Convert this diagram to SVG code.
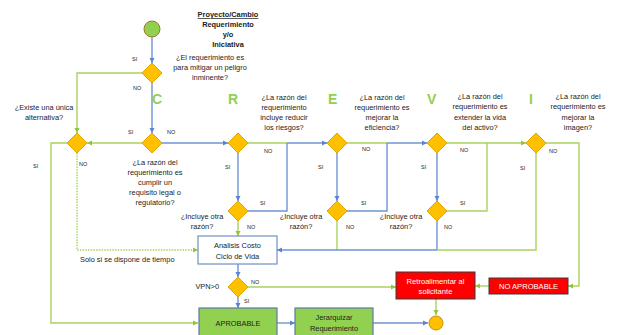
<svg xmlns="http://www.w3.org/2000/svg" width="617" height="335" viewBox="0 0 617 335">
<defs>
<style>
text{font-family:"Liberation Sans",Arial,sans-serif;fill:#222}
.q{font-size:7.4px;text-anchor:middle}
.t{font-size:7.4px;text-anchor:middle;font-weight:bold}
.s{font-size:5.5px}
.big{font-size:14px;fill:#92D050;font-weight:bold}
.b{fill:none;stroke:#6F94D6;stroke-width:1.4}
.g{fill:none;stroke:#A9D35C;stroke-width:1.4}
.gd{fill:none;stroke:#A9D35C;stroke-width:1.4;stroke-dasharray:1.5 1.2}
.dia{fill:#FFC000;stroke:#E3A600;stroke-width:1}
.red{fill:#FF0000;stroke:#3a3a3a;stroke-width:1}
.wt{font-size:7.6px;text-anchor:middle;fill:#fff}
.gb{fill:#92D050;stroke:#5B7BA8;stroke-width:1.2}
</style>
<marker id="ab" markerUnits="userSpaceOnUse" markerWidth="6" markerHeight="6" refX="5" refY="3" orient="auto"><path d="M0,0.5 L5,3 L0,5.5 Z" fill="#5B84D0"/></marker>
<marker id="ag" markerUnits="userSpaceOnUse" markerWidth="6" markerHeight="6" refX="5" refY="3" orient="auto"><path d="M0,0.5 L5,3 L0,5.5 Z" fill="#92C43C"/></marker>
</defs>
<rect width="617" height="335" fill="#fff"/>

<g id="connectors">
<path class="b" d="M152,37 V63" marker-end="url(#ab)"/>
<path class="g" d="M142,73 H77 V133" marker-end="url(#ag)"/>
<path class="b" d="M152,83 V133" marker-end="url(#ab)"/>
<path class="g" d="M142,143 H87" marker-end="url(#ag)"/>
<path class="b" d="M162,143 H228" marker-end="url(#ab)"/>
<path class="g" d="M67,143 H51 V323 H198" marker-end="url(#ag)"/>
<path class="gd" d="M77,153 V250 H198" marker-end="url(#ag)"/>
<path class="g" d="M248,143 H287"/>
<path class="b" d="M287,143 H327" marker-end="url(#ab)"/>
<path class="b" d="M238,153 V201" marker-end="url(#ab)"/>
<path class="b" d="M248,211 H287 V143"/>
<path class="g" d="M238,221 V236" marker-end="url(#ag)"/>
<path class="g" d="M347,143 H387"/>
<path class="b" d="M387,143 H427" marker-end="url(#ab)"/>
<path class="b" d="M337,153 V201" marker-end="url(#ab)"/>
<path class="b" d="M347,211 H387 V143"/>
<path class="g" d="M337,221 V250"/>
<path class="b" d="M337,250 H277" marker-end="url(#ab)"/>
<path class="g" d="M447,143 H487"/>
<path class="g" d="M487,143 H526" marker-end="url(#ag)"/>
<path class="b" d="M437,153 V201" marker-end="url(#ab)"/>
<path class="g" d="M447,211 H487 V143"/>
<path class="b" d="M437,221 V250 H337"/>
<path class="g" d="M536,153 V250 H437"/>
<path class="g" d="M546,143 H579 V286 H568" marker-end="url(#ag)"/>
<path class="g" d="M489,286 H475" marker-end="url(#ag)"/>
<path class="g" d="M436,299 V315" marker-end="url(#ag)"/>
<path class="b" d="M238,264 V277" marker-end="url(#ab)"/>
<path class="g" d="M248,287 H396" marker-end="url(#ag)"/>
<path class="b" d="M238,297 V308" marker-end="url(#ab)"/>
<path class="b" d="M277,323 H295" marker-end="url(#ab)"/>
<path class="b" d="M373,323 H428" marker-end="url(#ab)"/>
</g>

<g id="title">
<text class="t" x="228" y="17" text-decoration="underline">Proyecto/Cambio</text>
<text class="t" x="228" y="27">Requerimiento</text>
<text class="t" x="228" y="37">y/o</text>
<text class="t" x="228" y="47">Iniciativa</text>
</g>

<g id="start"><circle cx="152" cy="29" r="8" fill="#92D050" stroke="#A0782E" stroke-width="1"/></g>

<g id="d-peligro">
<path class="dia" d="M152,63 L162,73 L152,83 L142,73 Z"/>
<text class="q" x="210" y="60">¿El requerimiento es</text>
<text class="q" x="210" y="70">para mitigar un peligro</text>
<text class="q" x="210" y="80">inminente?</text>
<text class="s" x="132" y="61">SI</text>
<text class="s" x="133" y="90">NO</text>
</g>

<g id="d-unica">
<path class="dia" d="M77,133 L87,143 L77,153 L67,143 Z"/>
<text class="q" x="44" y="110">¿Existe una única</text>
<text class="q" x="44" y="120">alternativa?</text>
<text class="s" x="33" y="168">SI</text>
<text class="s" x="79" y="166">NO</text>
</g>

<g id="d-legal">
<path class="dia" d="M152,133 L162,143 L152,153 L142,143 Z"/>
<text class="big" x="152" y="104">C</text>
<text class="q" x="155" y="165">¿La razón del</text>
<text class="q" x="155" y="175">requerimiento es</text>
<text class="q" x="155" y="185">cumplir un</text>
<text class="q" x="155" y="195">requisito legal o</text>
<text class="q" x="155" y="205">regulatorio?</text>
<text class="s" x="128" y="134">SI</text>
<text class="s" x="167" y="134">NO</text>
</g>

<g id="d-riesgos">
<path class="dia" d="M238,133 L248,143 L238,153 L228,143 Z"/>
<text class="big" x="228" y="104">R</text>
<text class="q" x="284" y="100">¿La razón del</text>
<text class="q" x="284" y="110">requerimiento</text>
<text class="q" x="284" y="120">incluye reducir</text>
<text class="q" x="284" y="130">los riesgos?</text>
<text class="s" x="264" y="153">NO</text>
<text class="s" x="225" y="169">SI</text>
</g>

<g id="d-otra-r">
<path class="dia" d="M238,201 L248,211 L238,221 L228,211 Z"/>
<text class="q" x="202" y="219">¿Incluye otra</text>
<text class="q" x="202" y="229">razón?</text>
<text class="s" x="260" y="205">SI</text>
<text class="s" x="247" y="229">NO</text>
</g>

<g id="d-eficiencia">
<path class="dia" d="M337,133 L347,143 L337,153 L327,143 Z"/>
<text class="big" x="328" y="104">E</text>
<text class="q" x="382" y="100">¿La razón del</text>
<text class="q" x="382" y="110">requerimiento  es</text>
<text class="q" x="382" y="120">mejorar la</text>
<text class="q" x="382" y="130">eficiencia?</text>
<text class="s" x="362" y="151">NO</text>
<text class="s" x="318" y="169">SI</text>
</g>

<g id="d-otra-e">
<path class="dia" d="M337,201 L347,211 L337,221 L327,211 Z"/>
<text class="q" x="301" y="219">¿Incluye otra</text>
<text class="q" x="301" y="229">razón?</text>
<text class="s" x="361" y="205">SI</text>
<text class="s" x="346" y="229">NO</text>
</g>

<g id="d-vida">
<path class="dia" d="M437,133 L447,143 L437,153 L427,143 Z"/>
<text class="big" x="427" y="104">V</text>
<text class="q" x="480" y="99">¿La razón del</text>
<text class="q" x="480" y="109">requerimiento  es</text>
<text class="q" x="480" y="120">extender la vida</text>
<text class="q" x="480" y="130">del activo?</text>
<text class="s" x="460" y="152">NO</text>
<text class="s" x="421" y="169">SI</text>
</g>

<g id="d-otra-v">
<path class="dia" d="M437,201 L447,211 L437,221 L427,211 Z"/>
<text class="q" x="401" y="219">¿Incluye otra</text>
<text class="q" x="401" y="229">razón?</text>
<text class="s" x="460" y="205">SI</text>
<text class="s" x="444" y="229">NO</text>
</g>

<g id="d-imagen">
<path class="dia" d="M536,133 L546,143 L536,153 L526,143 Z"/>
<text class="big" x="529" y="104">I</text>
<text class="q" x="578" y="99">¿La razón del</text>
<text class="q" x="578" y="109">requerimiento  es</text>
<text class="q" x="578" y="120">mejorar la</text>
<text class="q" x="578" y="130">imagen?</text>
<text class="s" x="549" y="153">NO</text>
<text class="s" x="520" y="170">SI</text>
</g>

<g id="analisis">
<rect x="198" y="236" width="79" height="28" fill="#fff" stroke="#7090C4" stroke-width="1.2"/>
<text class="q" x="237.5" y="248">Analisis Costo</text>
<text class="q" x="237.5" y="259">Ciclo de Vida</text>
<text x="80" y="262" style="font-size:7.4px">Solo si se dispone de tiempo</text>
</g>

<g id="d-vpn">
<path class="dia" d="M238,277 L248,287 L238,297 L228,287 Z"/>
<text x="219" y="289" style="font-size:7.4px;text-anchor:end">VPN&gt;0</text>
<text class="s" x="251" y="284">NO</text>
<text class="s" x="244" y="303">SI</text>
</g>

<g id="aprobable">
<rect class="gb" x="199" y="308" width="78" height="29"/>
<text class="q" x="238" y="326">APROBABLE</text>
</g>

<g id="jerarquizar">
<rect class="gb" x="295" y="308" width="78" height="29"/>
<text class="q" x="334" y="320">Jerarquizar</text>
<text class="q" x="334" y="331">Requerimiento</text>
</g>

<g id="retro">
<rect class="red" x="396" y="272" width="79" height="27"/>
<text class="wt" x="435.5" y="283.5">Retroalimentar al</text>
<text class="wt" x="435.5" y="294">solicitante</text>
</g>

<g id="no-aprobable">
<rect class="red" x="489" y="278" width="79" height="16"/>
<text class="wt" x="528.5" y="288.8">NO APROBABLE</text>
</g>

<g id="end"><circle cx="436" cy="323" r="7" fill="#FFC000" stroke="#C89000" stroke-width="1"/></g>
</svg>
